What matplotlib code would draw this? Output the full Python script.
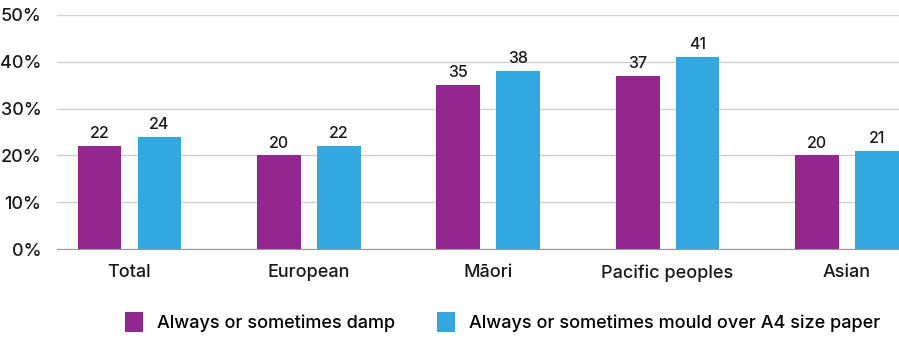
import matplotlib.pyplot as plt
import numpy as np

categories = ["Total", "European", "Māori", "Pacific peoples", "Asian"]
damp = [22, 20, 35, 37, 20]
mould = [24, 22, 38, 41, 21]
series_names = ["Always or sometimes damp", "Always or sometimes mould over A4 size paper"]

plt.rcParams["font.family"] = ["Inter", "DejaVu Sans"]
plt.rcParams["font.weight"] = "medium"

fig = plt.figure(figsize=(8.99, 3.38), dpi=100)
ax = fig.add_axes([0.063, 0.263, 0.937, 0.693])

x = np.arange(len(categories))
off = 0.167
w = 0.244
b1 = ax.bar(x - off, damp, w, color="#93278F", label=series_names[0], zorder=3)
b2 = ax.bar(x + off, mould, w, color="#33A8E0", label=series_names[1], zorder=3)

for bars in (b1, b2):
    for r in bars:
        ax.text(r.get_x() + r.get_width() / 2, r.get_height() + 1.0, f"{r.get_height():.0f}",
                ha="center", va="bottom", fontsize=11.5, color="#1a1a1a", fontweight="medium")

ax.set_ylim(0, 50)
ax.set_xlim(-0.406, 4.29)
ax.set_yticks(range(0, 51, 10))
ax.set_yticklabels([f"{v}%" for v in range(0, 51, 10)], fontsize=13)
ax.set_xticks(x)
ax.set_xticklabels(categories, fontsize=13)
ax.tick_params(length=0, colors="#1a1a1a")
ax.tick_params(axis="x", pad=11)
ax.tick_params(axis="y", pad=11)
ax.yaxis.grid(True, color="#d0d0d0", linewidth=1, zorder=0)
for s in ["top", "right", "left"]:
    ax.spines[s].set_visible(False)
ax.spines["bottom"].set_color("#999999")
ax.spines["bottom"].set_zorder(4)

fig.legend(loc="lower center", bbox_to_anchor=(0.559, -0.03), ncol=2, frameon=False,
           fontsize=13, handlelength=1.0, handleheight=1.3, columnspacing=2.3,
           handletextpad=0.8)

plt.savefig("out.png", dpi=100)
